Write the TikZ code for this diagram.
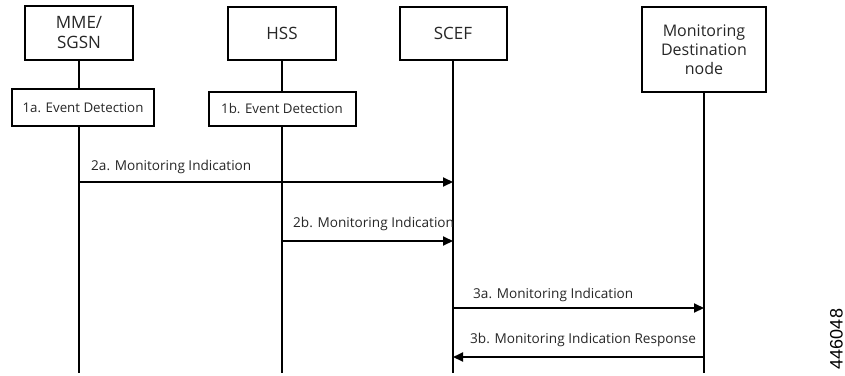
\documentclass[tikz,border=0pt]{standalone}
\usepackage{fontspec}
\setmainfont{Open Sans}
\newfontfamily\arialfont{Liberation Sans}
\usetikzlibrary{arrows.meta}
\begin{document}
\begin{tikzpicture}[x=1pt,y=-1pt,
  ent/.style={draw,line width=2pt,align=center,inner sep=0pt,font=\fontsize{17}{20}\selectfont,text=black!85},
  evt/.style={draw,line width=2pt,inner sep=0pt,font=\fontsize{13.3}{15}\selectfont,text=black!85},
  life/.style={line width=2pt},
  msg/.style={line width=2pt,-{Triangle[length=10pt,width=9pt]}},
  lbl/.style={font=\fontsize{13.6}{15}\selectfont,text=black!85,inner sep=0pt}]
\useasboundingbox (0,0) rectangle (845,375);
% entity boxes
\node[ent,minimum width=108pt,minimum height=54pt] (mme) at (79,33) {MME/\\SGSN};
\node[ent,minimum width=108pt,minimum height=53pt] (hss) at (282,33.5) {HSS};
\node[ent,minimum width=107pt,minimum height=53pt] (scef) at (453,33.5) {SCEF};
\node[ent,minimum width=124pt,minimum height=85pt,font=\fontsize{16}{19}\selectfont] (mdn) at (704,49.5) {Monitoring\\Destination\\node};
% event boxes
\node[evt,minimum width=142pt,minimum height=37pt] (e1a) at (83,107.5) {1a. Event Detection};
\node[evt,minimum width=147pt,minimum height=34pt] (e1b) at (282,109) {1b. Event Detection};
% lifeline ends
\coordinate (mmeend) at (79,373);
\coordinate (hssend) at (282,373);
\coordinate (scefend) at (453,373);
\coordinate (mdnend) at (704,373);
\draw[life] (mme.south) -- (mme.south |- e1a.north);
\draw[life] (mme.south |- e1a.south) -- (mmeend);
\draw[life] (hss.south) -- (e1b.north);
\draw[life] (e1b.south) -- (hssend);
\draw[life] (scef.south) -- (scefend);
\draw[life] (mdn.south) -- (mdnend);
% message endpoints
\coordinate (m2as) at (79,182);  \coordinate (m2ae) at (453,182);
\coordinate (m2bs) at (282,241); \coordinate (m2be) at (453,241);
\coordinate (m3as) at (453,308); \coordinate (m3ae) at (704,308);
\coordinate (m3bs) at (704,357); \coordinate (m3be) at (453,357);
\draw[msg] (m2as) -- (m2ae);
\draw[msg] (m2bs) -- (m2be);
\draw[msg] (m3as) -- (m3ae);
\draw[msg] (m3bs) -- (m3be);
\node[lbl,anchor=west] (l2a) at (91,167) {2a. Monitoring Indication};
\node[lbl,anchor=west] (l2b) at (293,224) {2b. Monitoring Indication};
\node[lbl,anchor=west] (l3a) at (473,295) {3a. Monitoring Indication};
\node[lbl,anchor=west] (l3b) at (470,340) {3b. Monitoring Indication Response};
\node[font=\arialfont\fontsize{18}{20}\selectfont,rotate=90,inner sep=0pt] (fig) at (836.5,339) {446048};
\end{tikzpicture}
\end{document}
